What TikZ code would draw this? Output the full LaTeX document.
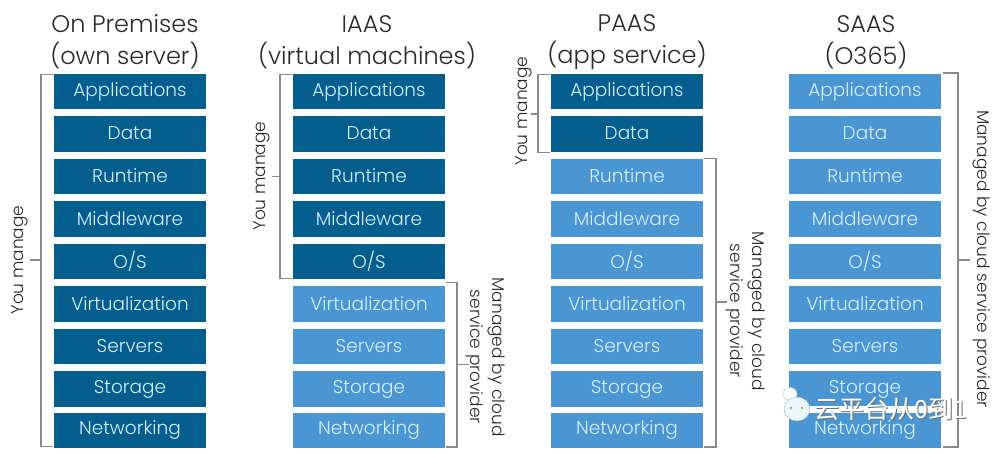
\documentclass[tikz,border=0pt]{standalone}
\usepackage{fontspec}
\setmainfont{Poppins Light}
\newfontfamily\cjk{Noto Sans CJK SC}
\definecolor{darkb}{HTML}{045E8E}
\definecolor{lightb}{HTML}{4A96D3}
\definecolor{boxtxt}{HTML}{D6EDFB}
\definecolor{brk}{HTML}{8A8A8A}
\definecolor{ink}{HTML}{2A2A2A}
\newcommand{\Tx}[1]{\raisebox{1pt}{#1}}
\tikzset{
 cell/.style={minimum width=152pt,minimum height=35.5pt,inner sep=0pt,text=boxtxt,font=\fontsize{18.5}{20}\selectfont,anchor=center},
 dk/.style={cell,fill=darkb},
 lt/.style={cell,fill=lightb},
 brace/.style={draw=brk,line width=1.1pt},
 head/.style={text=ink,font=\fontsize{24}{32}\selectfont,align=center,inner sep=0pt},
 side/.style={text=ink,font=\fontsize{17}{22}\selectfont,align=center,inner sep=0pt},
 wmark/.style={font=\cjk\fontsize{25}{27}\selectfont,inner sep=0pt}
}
\begin{document}
\begin{tikzpicture}[x=1pt,y=-1pt]
\useasboundingbox (0,0) rectangle (1000,453);
% column 1
\node[dk] (a1) at (130,91.5) {\Tx{Applications}};
\node[dk] (a2) at (130,134) {\Tx{Data}};
\node[dk] (a3) at (130,176.5) {\Tx{Runtime}};
\node[dk] (a4) at (130,219) {\Tx{Middleware}};
\node[dk] (a5) at (130,261.5) {\Tx{O/S}};
\node[dk] (a6) at (130,304) {\Tx{Virtualization}};
\node[dk] (a7) at (130,346.5) {\Tx{Servers}};
\node[dk] (a8) at (130,389) {\Tx{Storage}};
\node[dk] (a9) at (130,430.5) {\Tx{Networking}};
% column 2
\node[dk] (b1) at (369,91.5) {\Tx{Applications}};
\node[dk] (b2) at (369,134) {\Tx{Data}};
\node[dk] (b3) at (369,176.5) {\Tx{Runtime}};
\node[dk] (b4) at (369,219) {\Tx{Middleware}};
\node[dk] (b5) at (369,261.5) {\Tx{O/S}};
\node[lt] (b6) at (369,304) {\Tx{Virtualization}};
\node[lt] (b7) at (369,346.5) {\Tx{Servers}};
\node[lt] (b8) at (369,389) {\Tx{Storage}};
\node[lt] (b9) at (369,430.5) {\Tx{Networking}};
% column 3
\node[dk] (c1) at (627,91.5) {\Tx{Applications}};
\node[dk] (c2) at (627,134) {\Tx{Data}};
\node[lt] (c3) at (627,176.5) {\Tx{Runtime}};
\node[lt] (c4) at (627,219) {\Tx{Middleware}};
\node[lt] (c5) at (627,261.5) {\Tx{O/S}};
\node[lt] (c6) at (627,304) {\Tx{Virtualization}};
\node[lt] (c7) at (627,346.5) {\Tx{Servers}};
\node[lt] (c8) at (627,389) {\Tx{Storage}};
\node[lt] (c9) at (627,430.5) {\Tx{Networking}};
% column 4
\node[lt] (d1) at (865,91.5) {\Tx{Applications}};
\node[lt] (d2) at (865,134) {\Tx{Data}};
\node[lt] (d3) at (865,176.5) {\Tx{Runtime}};
\node[lt] (d4) at (865,219) {\Tx{Middleware}};
\node[lt] (d5) at (865,261.5) {\Tx{O/S}};
\node[lt] (d6) at (865,304) {\Tx{Virtualization}};
\node[lt] (d7) at (865,346.5) {\Tx{Servers}};
\node[lt] (d8) at (865,389) {\Tx{Storage}};
\node[lt] (d9) at (865,430.5) {\Tx{Networking}};
% headings
\node[head] (h1) at (125,42) {On Premises\\(own server)};
\node[head] (h2) at (367,42) {IAAS\\(virtual machines)};
\node[head] (h3) at (627,42) {PAAS\\(app service)};
\node[head] (h4) at (866,42) {SAAS\\(O365)};
% brackets
\draw[brace] (53,74.5) -| (41,446.5) -- (53,446.5);
\draw[brace] (41,260) -- (30,260);
\draw[brace] (292,74.5) -| (280,278.5) -- (292,278.5);
\draw[brace] (280,176.5) -- (272,176.5);
\draw[brace] (446,282.5) -| (457,447) -- (446,447);
\draw[brace] (457,364.5) -- (469,364.5);
\draw[brace] (550,74.5) -| (538,152.5) -- (550,152.5);
\draw[brace] (538,114) -- (531,114);
\draw[brace] (704,158.5) -| (716,447) -- (704,447);
\draw[brace] (716,302) -- (727,302);
\draw[brace] (943,73) -| (958,447) -- (943,447);
\draw[brace] (958,260) -- (970,260);
% side labels
\node[side,rotate=90] (s1) at (20,260) {You manage};
\node[side,rotate=90] (s2) at (262,176) {You manage};
\node[side,rotate=90] (s3) at (524,111) {You manage};
\node[side,rotate=-90] (s4) at (486,357) {Managed by cloud\\service provider};
\node[side,rotate=-90] (s5) at (746,311) {Managed by cloud\\service provider};
\node[side,rotate=-90] (s6) at (982,259) {Managed by cloud service provider};
% watermark
\fill[white] (788,406) rectangle (941,413);
\fill[white,draw=brk!60,line width=.4pt] (790,394) ellipse (7 and 6.5);
\fill[boxtxt!50!white,draw=brk!70,line width=.4pt] (797,409) ellipse (13 and 12);
\fill[brk] (791,408) circle (1.1) (802,408) circle (1.1);
\node[wmark,text=brk!80!black] (wmb) at (891.5,410) {云平台从0到1};
\node[wmark,text=white] (wm) at (890.5,409) {云平台从0到1};
\end{tikzpicture}
\end{document}
